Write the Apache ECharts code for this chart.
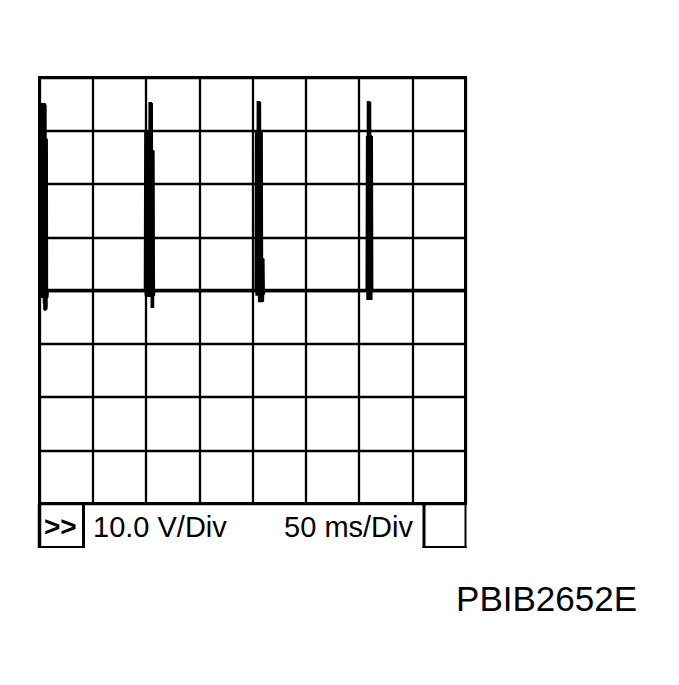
<!DOCTYPE html>
<html><head><meta charset="utf-8">
<script src="https://cdn.jsdelivr.net/npm/echarts@6/dist/echarts.min.js"></script>
<style>html,body{margin:0;padding:0;background:#fff}#c{width:679px;height:685px}</style>
</head><body><div id="c"></div>
<script>
// Scope trace: [time ms, volts]
const pulse1 = [[0.0,0],[0.2,35.0],[0.4,-1.0],[0.6,35.1],[0.8,-1.4],[1.0,35.0],[1.2,-1.2],[1.4,35.2],[1.6,-1.4],[1.8,35.0],[2.0,-1.3],[2.2,35.1],[2.4,-1.4],[2.6,35.0],[2.8,-1.2],[3.0,35.2],[3.2,-1.4],[3.4,35.0],[3.6,-1.5],[3.8,35.1],[4.0,-2.5],[4.2,35.0],[4.4,-3.7],[4.6,35.2],[4.8,-3.6],[5.0,35.0],[5.2,-3.8],[5.4,35.1],[5.6,-3.5],[5.8,34.8],[6.0,-3.7],[6.2,28.6],[6.4,-3.6],[6.6,28.5],[6.8,-3.4],[7.0,28.4],[7.2,-1.4],[7.6,-1.2],[8.0,0]];
const pulse2 = [[98.8,0],[99.2,29.9],[99.6,-1.0],[100.0,29.8],[100.4,-1.2],[100.8,29.9],[101.2,-1.1],[101.6,29.7],[102.0,-1.2],[102.4,29.9],[102.8,-1.0],[103.2,35.4],[103.6,-1.2],[104.0,35.3],[104.4,-1.1],[104.8,35.4],[105.2,-3.3],[105.6,35.2],[106.0,-3.2],[106.4,26.4],[106.8,-3.3],[107.2,26.3],[107.6,-1.0],[108.0,0]];
const pulse3 = [[202.8,0],[203.2,30.0],[203.6,-1.0],[204.0,29.9],[204.4,-0.9],[204.8,35.6],[205.2,-1.0],[205.6,35.5],[206.0,-2.2],[206.4,35.6],[206.8,-2.1],[207.2,35.4],[207.6,-2.2],[208.0,30.0],[208.4,-2.0],[208.8,29.8],[209.2,-2.2],[209.6,6.1],[210.0,-2.1],[210.4,6.0],[210.8,-0.8],[211.2,0]];
const pulse4 = [[307.0,0],[307.4,29.0],[307.8,-1.8],[308.2,35.6],[308.6,-1.7],[309.0,35.5],[309.4,-1.8],[309.8,35.6],[310.2,-1.8],[310.6,35.4],[311.0,-1.7],[311.4,29.2],[311.8,-1.8],[312.2,29.0],[312.6,0]];
const traceEnd = [[400,0]];
const baseline = [[0,0],[400,0]];

const voltsPerDiv = '10.0 V/Div';
const timePerDiv = '50 ms/Div';
const figureId = 'PBIB2652E';
const modeMark = '>>';

const trace = [].concat(pulse1, pulse2, pulse3, pulse4, traceEnd);

const chart = echarts.init(document.getElementById('c'), null, {renderer:'svg'});
const GL = 39.5, GT = 77.5, GW = 426, GH = 426;
const GB = GT + GH, GR = GL + GW, BARB = 547;
const font = '"Liberation Sans", Arial, sans-serif';
const ln = (x1,y1,x2,y2,w) => ({type:'line', shape:{x1,y1,x2,y2}, style:{stroke:'#000', lineWidth:w}, z:10});

chart.setOption({
  animation:false,
  backgroundColor:'#fff',
  grid:{left:GL, top:GT, width:GW, height:GH, show:true, borderColor:'#000', borderWidth:3, backgroundColor:'#fff'},
  xAxis:{type:'value', min:0, max:400, interval:50, axisLine:{show:false}, axisTick:{show:false}, axisLabel:{show:false},
    splitLine:{show:true, lineStyle:{color:'#000', width:2.3}}},
  yAxis:{type:'value', min:-40, max:40, interval:10, axisLine:{show:false}, axisTick:{show:false}, axisLabel:{show:false},
    splitLine:{show:true, lineStyle:{color:'#000', width:2.3}}},
  series:[
    {type:'line', data:baseline, symbol:'none', lineStyle:{color:'#000', width:3.5}, z:4},
    {type:'line', data:trace, symbol:'none', lineStyle:{color:'#000', width:2}, z:5}
  ],
  graphic:[
    ln(GL, GB, GL, BARB+1, 3.5),
    ln(83.5, GB, 83.5, BARB+1, 3),
    ln(38, BARB, 85, BARB, 2),
    ln(424, GB, 424, BARB+1, 3),
    ln(GR, GB, GR, BARB+1, 2),
    ln(422.5, BARB, GR+1, BARB, 2),
    {type:'text', x:44, y:526, style:{text:modeMark, font:'bold 28px '+font, fill:'#000', verticalAlign:'middle'}, z:10},
    {type:'text', x:93, y:527, style:{text:voltsPerDiv, font:'29px '+font, fill:'#000', verticalAlign:'middle'}, z:10},
    {type:'text', x:413, y:527, style:{text:timePerDiv, font:'29px '+font, fill:'#000', align:'right', verticalAlign:'middle'}, z:10},
    {type:'text', x:637, y:598, style:{text:figureId, font:'35px '+font, fill:'#000', align:'right', verticalAlign:'middle'}, z:10}
  ]
});
</script></body></html>
